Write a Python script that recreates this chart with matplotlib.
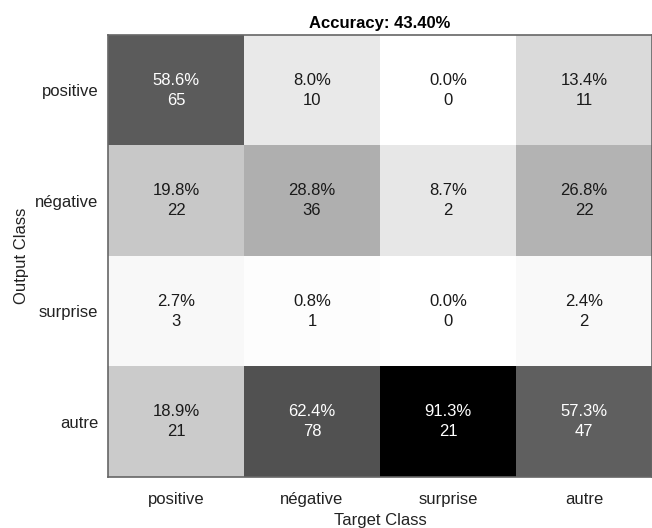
import numpy as np
import matplotlib
matplotlib.use('Agg')
import matplotlib.pyplot as plt

plt.rcParams['font.family'] = ['Liberation Sans', 'DejaVu Sans']

classes = ['positive', 'négative', 'surprise', 'autre']
# counts: rows = output class, columns = target class
counts = np.array([[65, 10, 0, 11],
                   [22, 36, 2, 22],
                   [3, 1, 0, 2],
                   [21, 78, 21, 47]])
pct = np.array([[58.6, 8.0, 0.0, 13.4],
                [19.8, 28.8, 8.7, 26.8],
                [2.7, 0.8, 0.0, 2.4],
                [18.9, 62.4, 91.3, 57.3]])
accuracy = 43.40

fig = plt.figure(figsize=(6.52, 5.28), dpi=100)
ax = fig.add_axes([108/652, 51/528, 544/652, 442/528])
ax.imshow(pct, cmap='gray_r', vmin=0, vmax=pct.max(), aspect='auto',
          interpolation='nearest')

for i in range(4):
    for j in range(4):
        col = 'white' if pct[i, j] > 50 else '#1a1a1a'
        ax.text(j, i, '%.1f%%\n%d' % (pct[i, j], counts[i, j]),
                ha='center', va='center', color=col, fontsize=12,
                linespacing=1.4)

ax.set_xticks(range(4))
ax.set_xticklabels(classes, fontsize=12)
ax.set_yticks(range(4))
ax.set_yticklabels(classes, fontsize=12)
ax.tick_params(axis='x', length=0, pad=11, colors='#222222')
ax.tick_params(axis='y', length=0, pad=7, colors='#222222')
ax.set_xlabel('Target Class', fontsize=12, labelpad=4, color='#222222')
ax.set_ylabel('Output Class', fontsize=12, labelpad=4, color='#222222')
ax.set_title('Accuracy: %.2f%%' % accuracy, fontsize=12, fontweight='bold', pad=5)
for s in ax.spines.values():
    s.set_color('#666666')
    s.set_linewidth(1.2)

fig.savefig('out.png', dpi=100)
